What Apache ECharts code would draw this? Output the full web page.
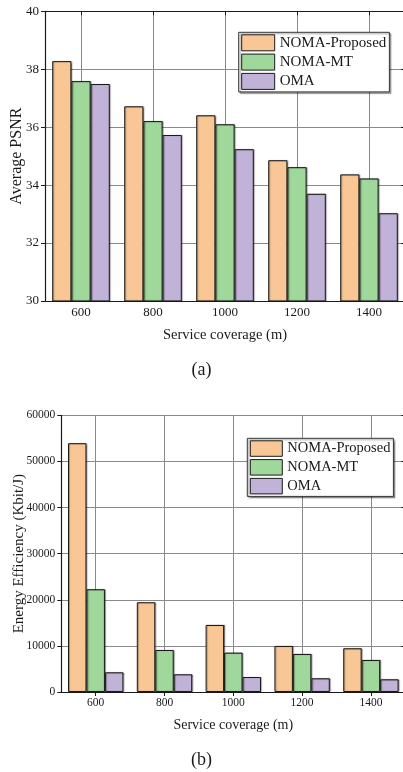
<!DOCTYPE html>
<html>
<head>
<meta charset="utf-8">
<script src="https://cdn.jsdelivr.net/npm/echarts@6/dist/echarts.min.js"></script>
<style>
  html, body { margin: 0; padding: 0; background: #fff; }
  #chart { width: 403px; height: 772px; }
</style>
</head>
<body>
<div id="chart"></div>
<script>
// Service coverage categories (m)
const categories = ['600', '800', '1000', '1200', '1400'];
const seriesNames = ['NOMA-Proposed', 'NOMA-MT', 'OMA'];

// (a) Average PSNR
const psnrProposed = [38.28, 36.72, 36.41, 34.86, 34.37];
const psnrMT       = [37.59, 36.21, 36.10, 34.62, 34.23];
const psnrOMA      = [37.49, 35.73, 35.24, 33.70, 33.03];

// (b) Energy efficiency (Kbit/J)
const eeProposed = [53950, 19460, 14530, 9980, 9480];
const eeMT       = [22280, 9110, 8530, 8240, 6940];
const eeOMA      = [4270, 3840, 3250, 2970, 2750];

const colors = ['#F9C795', '#A0D79B', '#C1B2D7'];
const FONT = '"Liberation Serif", "Times New Roman", serif';
const INK = '#1a1a1a';
const GRIDLINE = '#8a8a8a';

// Half-category steps on the frame's top axis: odd steps sit on category centres,
// which is where the vertical grid lines go.
const halfSteps = [];
for (let i = 0; i <= categories.length * 2; i++) halfSteps.push(String(i));
const onCentre = (idx) => idx % 2 === 1;

function barSeries(name, data, idx, axisIdx, gap) {
  return {
    name: name,
    type: 'bar',
    xAxisIndex: axisIdx,
    yAxisIndex: axisIdx,
    data: data,
    barGap: '0%',
    barCategoryGap: gap,
    itemStyle: {
      color: colors[idx],
      borderColor: INK,
      borderWidth: 1,
      shadowColor: 'rgba(0,0,0,0.35)',
      shadowBlur: 1,
      shadowOffsetX: 1,
      shadowOffsetY: 0
    },
    emphasis: { disabled: true },
    animation: false
  };
}

function bottomX(grid, fontSize, nameSize, nameGap, labelMargin) {
  return {
    type: 'category',
    gridIndex: grid,
    data: categories,
    boundaryGap: true,
    axisLine: { show: true, lineStyle: { color: INK, width: 1.2 } },
    axisTick: { show: true, inside: true, length: 4, alignWithLabel: true, lineStyle: { color: INK } },
    axisLabel: { fontFamily: FONT, fontSize: fontSize, color: INK, margin: labelMargin },
    splitLine: { show: false },
    name: 'Service coverage (m)',
    nameLocation: 'middle',
    nameGap: nameGap,
    nameMoveOverlap: false,
    nameTextStyle: { fontFamily: FONT, fontSize: nameSize, color: INK }
  };
}

function topX(grid) {
  return {
    type: 'category',
    gridIndex: grid,
    data: halfSteps,
    boundaryGap: false,
    position: 'top',
    axisLine: { show: true, lineStyle: { color: INK, width: 1.2 } },
    axisTick: { show: true, inside: true, length: 4, interval: onCentre, lineStyle: { color: INK } },
    axisLabel: { show: false },
    splitLine: { show: true, interval: onCentre, lineStyle: { color: GRIDLINE, width: 1 } }
  };
}

function leftY(grid, min, max, interval, name, fontSize, nameSize, nameGap) {
  return {
    type: 'value',
    gridIndex: grid,
    min: min, max: max, interval: interval,
    axisLine: { show: true, lineStyle: { color: INK, width: 1.2 } },
    axisTick: { show: true, inside: false, length: 4, lineStyle: { color: INK } },
    axisLabel: { fontFamily: FONT, fontSize: fontSize, color: INK, margin: 6, formatter: (v) => String(v) },
    splitLine: { show: true, lineStyle: { color: GRIDLINE, width: 1 } },
    name: name,
    nameLocation: 'middle',
    nameGap: nameGap,
    nameMoveOverlap: false,
    nameTextStyle: { fontFamily: FONT, fontSize: nameSize, color: INK }
  };
}

function rightY(grid, min, max, interval) {
  return {
    type: 'value',
    gridIndex: grid,
    position: 'right',
    min: min, max: max, interval: interval,
    axisLine: { show: true, lineStyle: { color: INK, width: 1.2 } },
    axisTick: { show: true, inside: true, length: 4, lineStyle: { color: INK } },
    axisLabel: { show: false },
    splitLine: { show: false }
  };
}

function legendBox(left, top, itemW, itemH, gap, fontSize) {
  return {
    orient: 'vertical',
    left: left,
    top: top,
    data: seriesNames,
    icon: 'rect',
    itemWidth: itemW,
    itemHeight: itemH,
    itemGap: gap,
    padding: [2, 3, 2, 2.5],
    backgroundColor: '#fff',
    borderColor: '#333',
    borderWidth: 1,
    borderRadius: 0,
    shadowColor: 'rgba(0,0,0,0.35)',
    shadowBlur: 1,
    shadowOffsetX: 1.5,
    shadowOffsetY: 1.5,
    selectedMode: false,
    itemStyle: { borderColor: INK, borderWidth: 1, shadowBlur: 0, shadowColor: 'transparent' },
    textStyle: { fontFamily: FONT, fontSize: fontSize, color: INK, lineHeight: itemH }
  };
}

const chart = echarts.init(document.getElementById('chart'), null, { renderer: 'canvas' });

chart.setOption({
  animation: false,
  backgroundColor: '#fff',
  grid: [
    { left: 45, top: 11.3, width: 360, height: 289.7, outerBoundsMode: 'none' },
    { left: 61.3, top: 415.3, width: 344, height: 276.7, outerBoundsMode: 'none' }
  ],
  xAxis: [
    bottomX(0, 13, 14.5, 27, 5),
    topX(0),
    bottomX(1, 11.5, 14, 26, 5),
    topX(1)
  ],
  yAxis: [
    leftY(0, 30, 40, 2, 'Average PSNR', 13, 16, 20),
    rightY(0, 30, 40, 2),
    leftY(1, 0, 60000, 10000, 'Energy Efficiency (Kbit/J)', 11.5, 15, 35),
    rightY(1, 0, 60000, 10000)
  ],
  legend: [
    legendBox(238.7, 32.3, 33, 16, 2.3, 15),
    legendBox(247.3, 438.3, 32, 15.5, 2.3, 14.5)
  ],
  series: [
    barSeries(seriesNames[0], psnrProposed, 0, 0, '20%'),
    barSeries(seriesNames[1], psnrMT, 1, 0, '20%'),
    barSeries(seriesNames[2], psnrOMA, 2, 0, '20%'),
    barSeries(seriesNames[0], eeProposed, 0, 2, '19.5%'),
    barSeries(seriesNames[1], eeMT, 1, 2, '19.5%'),
    barSeries(seriesNames[2], eeOMA, 2, 2, '19.5%')
  ],
  graphic: [
    { type: 'text', left: 'center', top: 361, style: { text: '(a)', font: '18px ' + FONT, fill: INK } },
    { type: 'text', left: 'center', top: 751, style: { text: '(b)', font: '18px ' + FONT, fill: INK } }
  ]
});
</script>
</body>
</html>
